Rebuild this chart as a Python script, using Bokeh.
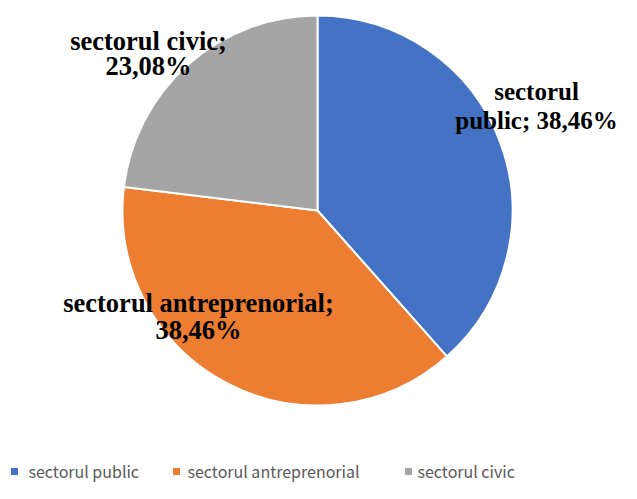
import math
from bokeh.plotting import figure
from bokeh.models import Range1d, ColumnDataSource
from bokeh.core.properties import value
from bokeh.embed import file_html
from bokeh.resources import INLINE

categories = ["sectorul public", "sectorul antreprenorial", "sectorul civic"]
percents = [38.46, 38.46, 23.08]
pct_labels = ["38,46%", "38,46%", "23,08%"]
colors = ["#4472C4", "#ED7D31", "#A5A5A5"]

W, H = 621, 483
p = figure(width=W, height=H, output_backend="svg", toolbar_location=None,
           x_range=Range1d(0, W), y_range=Range1d(499 - H, 499),
           min_border=0, outline_line_color=None)
p.axis.visible = False
p.grid.visible = False
p.background_fill_color = "white"
p.border_fill_color = "white"

def Y(y_img):
    return 499 - y_img

cx, cy, r = 317, Y(210), 195
total = sum(percents)
starts, ends = [], []
a = math.pi / 2
for v in percents:
    starts.append(a)
    a = a - v / total * 2 * math.pi
    ends.append(a)

src = ColumnDataSource(dict(start=starts, end=ends, color=colors))
p.wedge(x=cx, y=cy, radius=r, start_angle="start", end_angle="end",
        direction="clock", fill_color="color", line_color="white",
        line_width=2, source=src)

# data labels (two lines each)
label_lines = [
    ["sectorul", "public; " + pct_labels[0]],
    [categories[1] + ";", pct_labels[1]],
    [categories[2] + ";", pct_labels[2]],
]
label_pos = [(536, 91, 120), (198, 302, 329), (148, 40, 65)]
label_size = ["25px", "26.5px", "26.5px"]
for lines, (x, y1, y2), fs in zip(label_lines, label_pos, label_size):
    p.text(x=[x, x], y=[Y(y1), Y(y2)], text=lines, text_align="center",
           text_baseline="middle", text_font=value("Liberation Serif"),
           text_font_style="bold", text_font_size=fs, text_color="black")

# legend
sq_x = [14, 176, 408]
tx_x = [28, 187, 417]
p.rect(x=sq_x, y=[Y(471)] * 3, width=7, height=7, fill_color=colors,
       line_color=None)
p.text(x=tx_x, y=[Y(470)] * 3, text=categories, text_align="left",
       text_baseline="middle", text_font=value("Noto Sans CJK KR"),
       text_font_size="16px", text_color="#595959")

open("out.html", "w").write(file_html(p, INLINE))
